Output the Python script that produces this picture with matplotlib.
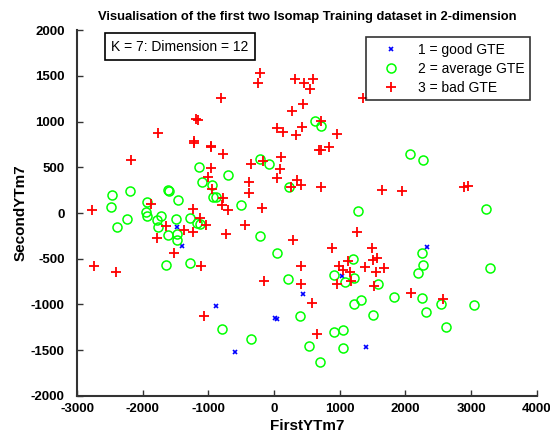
import matplotlib
matplotlib.use("Agg")
import matplotlib.pyplot as plt

# points (FirstYTm7, SecondYTm7)
good_x = [-1475, -1398, -880, -599, 15, 51, 447, 1398, 1027, 2335]
good_y = [-155, -356, -1014, -1520, -1150, -1160, -886, -1460, -685, -370]

avg_x = [-1144, -697, -1098, -941, -930, -890, -2196, -2466, -2475, -1616,
         -1595, -1932, -1455, -1950, -1940, -1728, -2237, -1490, -1275, -2390,
         -1789, -1170, -1133, -1764, -1612, -1475, -1475, -1652, -1286, -788,
         -355, 213, 51, -218, -498, 395, -213, -76, 229, 1271,
         620, 712, 2069, 2262, 3228, 2247, 2262, 2186, 3285, 1830,
         2247, 2542, 2313, 3050, 2618, 1207, 915, 1080, 1220, 1586,
         1210, 1322, 1510, 915, 1042, 534, 1042, 697]
avg_y = [502, 419, 335, 310, 180, 172, 243, 195, 70, 254,
         237, 125, 145, 10, -27, -27, -65, -60, -50, -148,
         -75, -112, -118, -148, -239, -228, -294, -568, -546, -1272,
         -1379, -721, -438, -254, 85, -1123, 588, 532, 290, 18,
         1006, 951, 641, 575, 46, -440, -564, -660, -602, -923,
         -932, -995, -1087, -1003, -1244, -502, -674, -752, -710, -776,
         -995, -951, -1112, -1299, -1277, -1452, -1477, -1628]

bad_x = [-2771, -2176, -1764, -1185, -1165, -1225, -1215, -965, -955, -813,
         -780, -965, -1002, -950, -770, -795, -1880, -1235, -1133, -700,
         -1042, -1642, -1373, -1235, -1789, -730, -1525, -2745, -2399, -1118,
         -1067, -447, -178, -152, 294, -210, -240, 315, 450, 590,
         549, 442, 270, 721, 422, 41, 135, 340, 956, 686,
         712, 839, 111, -163, -355, 92, 50, -381, -381, 346,
         407, 255, 712, 1650, 1347, 1941, 2898, 2948, 1261, 889,
         1490, 417, 417, 584, 651, 991, 1129, 1042, 1150, 1170,
         965, 1380, 1510, 1570, 1545, 1520, 1680, 2090, 2577]
bad_y = [35, 583, 875, 1032, 1020, 790, 770, 735, 720, 1258,
         645, 491, 392, 265, 160, 85, 101, 40, -55, 30,
         -129, -137, -184, -210, -276, -228, -440, -575, -649, -575,
         -1123, -126, 52, -740, -294, 1535, 1420, 1471, 1420, 1465,
         1361, 1197, 1120, 1006, 940, 929, 886, 857, 860, 693,
         685, 721, 612, 564, 535, 484, 386, 338, 215, 356,
         312, 290, 283, 250, 1260, 239, 290, 300, -210, -381,
         -381, -583, -776, -984, -1324, -575, -521, -620, -649, -740,
         -772, -586, -510, -491, -645, -795, -606, -870, -940]

x_ticks = [-3000, -2000, -1000, 0, 1000, 2000, 3000, 4000]
y_ticks = [-2000, -1500, -1000, -500, 0, 500, 1000, 1500, 2000]

plt.rcParams['font.family'] = ['Liberation Sans', 'DejaVu Sans']
plt.rcParams['axes.unicode_minus'] = False

fig = plt.figure(figsize=(5.5, 4.37), dpi=100)
ax = fig.add_axes([0.14, 0.094, 0.836, 0.837])

ax.plot(good_x, good_y, 'x', color='blue', markersize=3.5, markeredgewidth=1.2,
        label='1 = good GTE')
ax.plot(avg_x, avg_y, 'o', markerfacecolor='none', markeredgecolor='#00ff00',
        markersize=6.5, markeredgewidth=1.1, label='2 = average GTE')
ax.plot(bad_x, bad_y, '+', color='red', markersize=7.5, markeredgewidth=1.3,
        label='3 = bad GTE')

ax.set_xlim(-3000, 4000)
ax.set_ylim(-2000, 2000)
ax.set_xticks(x_ticks)
ax.set_yticks(y_ticks)
ax.tick_params(direction='in', length=4, width=1, labelsize=9.5, colors='#333333',
               labelcolor='black')
ax.tick_params(axis='y', pad=9)
ax.tick_params(axis='x', pad=5)
for lab in ax.get_xticklabels() + ax.get_yticklabels():
    lab.set_fontweight('bold')

for side in ['top', 'right']:
    ax.spines[side].set_visible(False)
for side in ['left', 'bottom']:
    ax.spines[side].set_color('#333333')
    ax.spines[side].set_linewidth(1.5)

ax.set_title('Visualisation of the first two Isomap Training dataset in 2-dimension',
             fontsize=9.4, fontweight='bold', pad=7)
ax.set_xlabel('FirstYTm7', fontsize=11, fontweight='bold', labelpad=3)
ax.set_ylabel('SecondYTm7', fontsize=11, fontweight='bold', labelpad=2)

ax.text(0.075, 0.955, 'K = 7: Dimension = 12', transform=ax.transAxes, fontsize=10,
        va='center', ha='left',
        bbox=dict(boxstyle='square,pad=0.45', facecolor='white', edgecolor='black', linewidth=1.2))

leg = ax.legend(loc='upper right', bbox_to_anchor=(0.985, 0.98), fontsize=10,
                frameon=True, fancybox=False, borderpad=0.4, labelspacing=0.35,
                handlelength=2.8, handletextpad=0.5, borderaxespad=0)
leg.get_frame().set_edgecolor('black')
leg.get_frame().set_linewidth(1.2)

fig.savefig('out.png', dpi=100)
